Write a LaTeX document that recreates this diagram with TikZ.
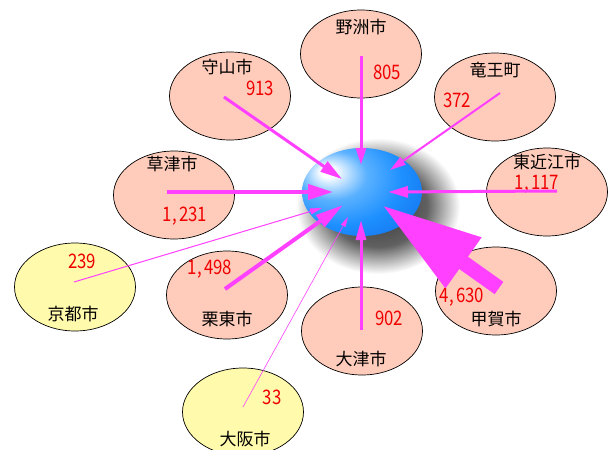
\documentclass[tikz,border=0pt]{standalone}
\usepackage{fontspec}
\setmainfont{Noto Sans CJK JP}
\usetikzlibrary{shapes.geometric,arrows.meta}

\definecolor{pinkfill}{RGB}{255,204,187}
\definecolor{yellowfill}{RGB}{255,250,172}
\definecolor{flowmag}{RGB}{255,64,255}
\definecolor{numred}{RGB}{240,0,0}
\definecolor{bluemid}{RGB}{30,144,255}
\definecolor{bluedark}{RGB}{15,105,230}
\definecolor{bluelight}{RGB}{150,210,255}

\pgfdeclareradialshading{ballsh}{\pgfpoint{-15bp}{12bp}}{color(0bp)=(white); color(3bp)=(white); color(14bp)=(bluelight!50!bluemid); color(26bp)=(bluemid); color(44bp)=(bluedark); color(70bp)=(bluedark)}
\pgfdeclareradialshading{shadowsh}{\pgfpoint{0bp}{0bp}}{color(0bp)=(black!80); color(15bp)=(black!62); color(25bp)=(white); color(50bp)=(white)}

\newcommand{\numtxt}[1]{\scalebox{0.84}[1]{#1}}

\begin{document}
\begin{tikzpicture}[x=1pt,y=-1pt,
  city/.style={ellipse, draw=black, line width=0.7pt, minimum width=121pt, minimum height=88pt, inner sep=0pt},
  pinkcity/.style={city, fill=pinkfill},
  yellowcity/.style={city, fill=yellowfill},
  cityname/.style={inner sep=0pt, font=\fontsize{17}{19}\selectfont},
  citynum/.style={inner sep=0pt, text=numred, font=\fontsize{20}{22}\selectfont},
  flow/.style={draw=flowmag, line cap=butt}
]
\useasboundingbox (0,0) rectangle (611,450);

% city ellipses
\node[pinkcity] (yasu) at (361,54) {};
\node[pinkcity] (ryuo) at (495,97) {};
\node[pinkcity] (higashi) at (547,192) {};
\node[pinkcity] (koka) at (496,291) {};
\node[pinkcity] (otsu) at (362,331) {};
\node[pinkcity] (ritto) at (227,295) {};
\node[pinkcity] (kusatsu) at (174,195) {};
\node[pinkcity] (moriyama) at (230,96) {};
\node[yellowcity] (kyoto) at (75,287) {};
\node[yellowcity] (osaka) at (243,412) {};

% shadow and central ball
\shade[shading=shadowsh] (378,206) ellipse (82 and 68);
\node[ellipse, minimum width=120pt, minimum height=88pt, inner sep=0pt, shading=ballsh] (hub) at (362,192) {};

% names
\node[cityname] (yasu-n) at (361,27) {野洲市};
\node[cityname] (ryuo-n) at (495,70) {竜王町};
\node[cityname] (higashi-n) at (547,162) {東近江市};
\node[cityname] (koka-n) at (496,319) {甲賀市};
\node[cityname] (otsu-n) at (361,359) {大津市};
\node[cityname] (ritto-n) at (227,319) {栗東市};
\node[cityname] (kusatsu-n) at (172,164) {草津市};
\node[cityname] (moriyama-n) at (227,67) {守山市};
\node[cityname] (kyoto-n) at (73,314) {京都市};
\node[cityname] (osaka-n) at (245,439) {大阪市};

% numbers
\node[citynum] (yasu-v) at (387,72) {\numtxt{805}};
\node[citynum] (ryuo-v) at (457,100) {\numtxt{372}};
\node[citynum] (higashi-v) at (537,184) {\numtxt{1,\kern3pt117}};
\node[citynum] (koka-v) at (462,297) {\numtxt{4,\kern3pt630}};
\node[citynum] (otsu-v) at (389,318) {\numtxt{902}};
\node[citynum] (ritto-v) at (210,269) {\numtxt{1,\kern3pt498}};
\node[citynum] (kusatsu-v) at (185,216) {\numtxt{1,\kern3pt231}};
\node[citynum] (moriyama-v) at (260,88) {\numtxt{913}};
\node[citynum] (kyoto-v) at (82,261) {\numtxt{239}};
\node[citynum] (osaka-v) at (272,397) {\numtxt{33}};

% arrow start points (inside each city) and tips (on the hub)
\coordinate (yasu-s) at (361,56);     \coordinate (yasu-t) at (361,165);
\coordinate (ryuo-s) at (500,93);     \coordinate (ryuo-t) at (390,170);
\coordinate (higashi-s) at (557,191); \coordinate (higashi-t) at (388,192);
\coordinate (koka-s) at (499,288);    \coordinate (koka-t) at (382,205);
\coordinate (otsu-s) at (361,330);    \coordinate (otsu-t) at (361,220);
\coordinate (ritto-s) at (225,289);   \coordinate (ritto-t) at (343,205);
\coordinate (kusatsu-s) at (167,192); \coordinate (kusatsu-t) at (333,192);
\coordinate (moriyama-s) at (224,97); \coordinate (moriyama-t) at (342,179);
\coordinate (kyoto-s) at (74,282);    \coordinate (kyoto-t) at (322,208);
\coordinate (osaka-s) at (243,407);   \coordinate (osaka-t) at (348,217);

% flows
\draw[flow, line width=3pt, -{Triangle[length=17pt,width=10pt]}] (yasu-s) -- (yasu-t);
\draw[flow, line width=2pt, -{Triangle[length=16pt,width=9pt]}] (ryuo-s) -- (ryuo-t);
\draw[flow, line width=3pt, -{Triangle[length=20pt,width=11pt]}] (higashi-s) -- (higashi-t);
\draw[flow, line width=3pt, -{Triangle[length=20pt,width=10pt]}] (otsu-s) -- (otsu-t);
\draw[flow, line width=4pt, -{Triangle[length=28pt,width=14pt]}] (ritto-s) -- (ritto-t);
\draw[flow, line width=4pt, -{Triangle[length=25pt,width=15pt]}] (kusatsu-s) -- (kusatsu-t);
\draw[flow, line width=3pt, -{Triangle[length=22pt,width=12pt]}] (moriyama-s) -- (moriyama-t);
\draw[flow, line width=1pt, -{Triangle[length=12pt,width=6pt]}] (kyoto-s) -- (kyoto-t);
\draw[flow, line width=0.6pt, -{Triangle[length=10pt,width=5pt]}] (osaka-s) -- (osaka-t);
\draw[flow, line width=15pt, -{Triangle[length=100pt,width=58pt]}] (koka-s) -- (koka-t);
\end{tikzpicture}
\end{document}
